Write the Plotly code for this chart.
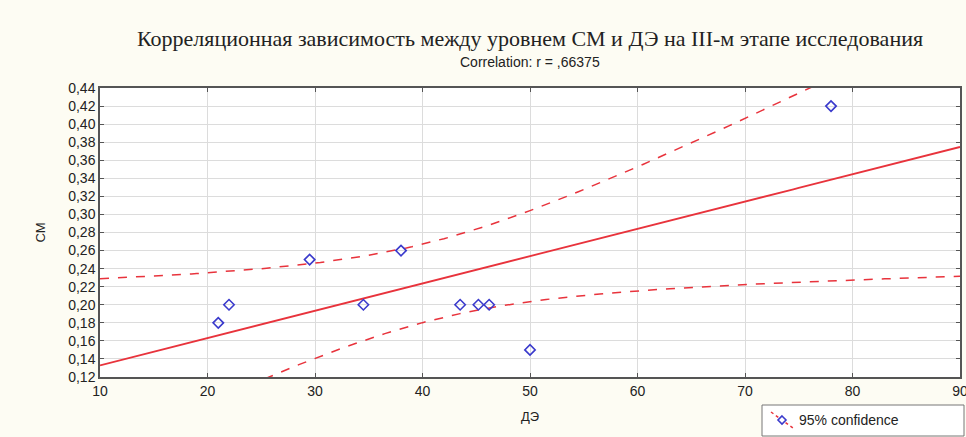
import numpy as np
import plotly.graph_objects as go

# Data
de_values = [21.0, 22.0, 29.5, 34.5, 38.0, 43.5, 45.2, 46.2, 50.0, 78.0]
cm_values = [0.18, 0.20, 0.25, 0.20, 0.26, 0.20, 0.20, 0.20, 0.15, 0.42]
x_ticks = [10, 20, 30, 40, 50, 60, 70, 80, 90]
y_ticks = [0.12, 0.14, 0.16, 0.18, 0.20, 0.22, 0.24, 0.26, 0.28, 0.30,
           0.32, 0.34, 0.36, 0.38, 0.40, 0.42, 0.44]
title_text = "Корреляционная зависимость между уровнем СМ и ДЭ на III-м этапе исследования"
subtitle_text = "Correlation: r = ,66375"
legend_text = "95% confidence"
t_crit = 2.306  # t(0.975, df=8)

x = np.array(de_values)
y = np.array(cm_values)
n = len(x)
b, a = np.polyfit(x, y, 1)
resid = y - (a + b * x)
s = np.sqrt(np.sum(resid ** 2) / (n - 2))
xm = x.mean()
sxx = np.sum((x - xm) ** 2)
xf = np.linspace(10, 90, 161)
yf = a + b * xf
se = s * np.sqrt(1.0 / n + (xf - xm) ** 2 / sxx)
upper = yf + t_crit * se
lower = yf - t_crit * se

red = "#e8333c"
blue = "#3a3acc"

fig = go.Figure()
fig.add_trace(go.Scatter(x=xf, y=yf, mode="lines", line=dict(color=red, width=1.8),
                         showlegend=False, hoverinfo="skip"))
fig.add_trace(go.Scatter(x=xf, y=upper, mode="lines", line=dict(color=red, width=1.5, dash="dash"),
                         showlegend=False, hoverinfo="skip"))
fig.add_trace(go.Scatter(x=xf, y=lower, mode="lines", line=dict(color=red, width=1.5, dash="dash"),
                         showlegend=False, hoverinfo="skip"))
fig.add_trace(go.Scatter(x=de_values, y=cm_values, mode="markers",
                         marker=dict(symbol="diamond-open", size=8, color=blue, line=dict(width=1.6, color=blue)),
                         showlegend=False))

axis_common = dict(showgrid=True, gridcolor="#dcdcdc", gridwidth=1, zeroline=False,
                   showline=True, linecolor="#555555", linewidth=1.5, mirror="ticks",
                   ticks="inside", ticklen=4, tickcolor="#555555", automargin=False,
                   ticklabeloverflow="allow",
                   tickfont=dict(family="Arial, Liberation Sans, sans-serif", size=14, color="#222222"))

ML, MR, MT, MB, W, H = 100, 6, 88, 60, 966, 437
plot_w = W - ML - MR
plot_h = H - MT - MB


def px_x(p):
    return (p - ML) / plot_w


def px_y(p):
    return (H - MB - p) / plot_h


legend_shapes = [
    dict(type="rect", xref="paper", yref="paper", x0=px_x(762), x1=px_x(964),
         y0=px_y(436), y1=px_y(405), fillcolor="#ffffff", line=dict(color="#777777", width=1)),
    dict(type="line", xref="paper", yref="paper", x0=px_x(771), x1=px_x(793),
         y0=px_y(412), y1=px_y(428), line=dict(color=red, width=1.5, dash="dot")),
    dict(type="path", xref="paper", yref="paper", xsizemode="pixel", ysizemode="pixel",
         xanchor=px_x(782), yanchor=px_y(420), path="M 0 4 L 4 0 L 0 -4 L -4 0 Z",
         fillcolor="#ffffff", line=dict(color=blue, width=1.6)),
]

fig.update_layout(
    width=W, height=H,
    paper_bgcolor="#fdfcf3", plot_bgcolor="#ffffff",
    margin=dict(l=ML, r=MR, t=MT, b=MB),
    separators=", ",
    showlegend=False,
    font=dict(family="Arial, Liberation Sans, sans-serif", size=13, color="#222222"),
    xaxis=dict(range=[10, 90], tickvals=x_ticks,
               title=dict(text="ДЭ", standoff=14, font=dict(size=13)), **axis_common),
    yaxis=dict(range=[0.12, 0.44], tickvals=y_ticks, tickformat=".2f",
               title=dict(text="СМ", standoff=20, font=dict(size=13)), **axis_common),
    shapes=legend_shapes,
    annotations=[
        dict(text=title_text, x=0.5, y=px_y(38), xref="paper", yref="paper",
             showarrow=False, yanchor="middle",
             font=dict(family="Liberation Serif, Times New Roman, serif", size=22, color="#222222")),
        dict(text=subtitle_text, x=0.5, y=px_y(62), xref="paper", yref="paper",
             showarrow=False, yanchor="middle",
             font=dict(family="Arial, Liberation Sans, sans-serif", size=14, color="#222222")),
        dict(text=legend_text, x=px_x(797), y=px_y(420), xref="paper", yref="paper",
             showarrow=False, xanchor="left", yanchor="middle",
             font=dict(family="Arial, Liberation Sans, sans-serif", size=14, color="#222222")),
    ],
)

fig.write_html("out.html", config={"displayModeBar": False},
               post_script="document.body.style.margin='0px';document.body.style.overflow='hidden';")
